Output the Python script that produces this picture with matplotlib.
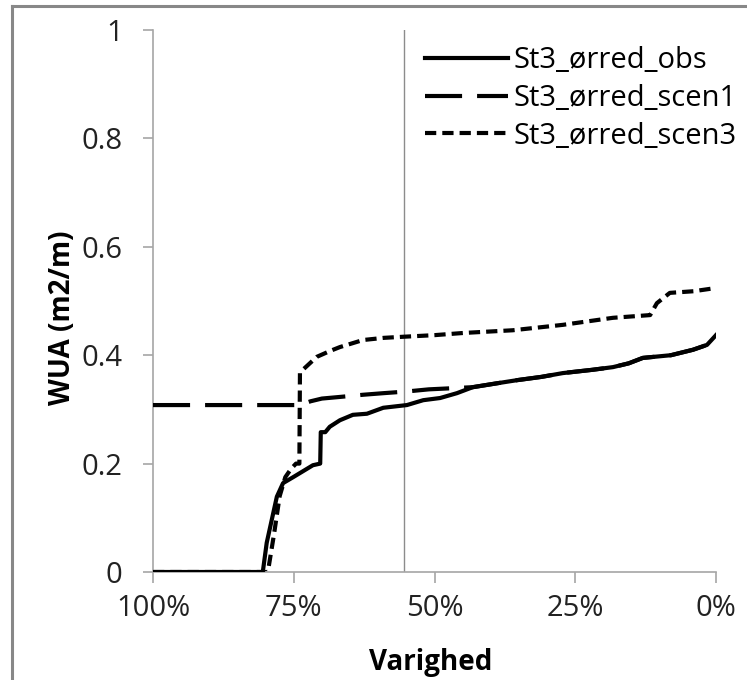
#!/usr/bin/env python3

import matplotlib

matplotlib.use("Agg")

import matplotlib.pyplot as plt
from matplotlib.lines import Line2D

# duration share (%) and WUA (m2/m)
obs_pct = [100, 80.5, 79.8, 78.0, 76.9, 75.1, 71.6, 70.3, 70.2, 69.4, 68.6, 66.8,
           64.5, 62.0, 59.1, 54.9, 52.0, 49.0, 46.0, 43.2, 39.0, 35.3, 31.0, 27.2,
           22.0, 18.3, 15.5, 13.0, 8.0, 4.1, 1.6, 0]
obs_wua = [0, 0, 0.054, 0.139, 0.164, 0.175, 0.197, 0.200, 0.258, 0.258, 0.268, 0.280,
           0.290, 0.292, 0.303, 0.308, 0.317, 0.321, 0.330, 0.341, 0.348, 0.354, 0.360, 0.367,
           0.373, 0.378, 0.385, 0.395, 0.400, 0.410, 0.419, 0.437]

scen1_pct = [100, 74.0, 72.0, 70.0, 66.8, 62.7, 59.0, 55.0, 51.0, 47.0, 43.2, 39.0,
             35.3, 31.0, 27.2, 22.0, 18.3, 15.5, 13.0, 8.0, 4.1, 1.6, 0]
scen1_wua = [0.308, 0.308, 0.315, 0.320, 0.323, 0.327, 0.330, 0.333, 0.337, 0.339, 0.341, 0.348,
             0.354, 0.360, 0.367, 0.373, 0.378, 0.385, 0.395, 0.400, 0.410, 0.419, 0.437]

scen3_pct = [100, 79.6, 78.5, 77.5, 76.5, 75.5, 74.6, 74.0, 73.9, 73.4, 70.9, 68.5,
             66.8, 62.7, 59.0, 55.6, 50.0, 44.9, 36.1, 27.2, 18.3, 11.7, 10.5, 8.2, 4.0, 0]
scen3_wua = [0, 0, 0.07, 0.14, 0.175, 0.190, 0.200, 0.200, 0.367, 0.373, 0.397, 0.408,
             0.415, 0.428, 0.432, 0.434, 0.437, 0.441, 0.446, 0.456, 0.469, 0.474, 0.496, 0.515,
             0.518, 0.524]

marker_pct = 55.4

x_ticks = [100, 75, 50, 25, 0]
x_tick_labels = ["100%", "75%", "50%", "25%", "0%"]
y_ticks = [0, 0.2, 0.4, 0.6, 0.8, 1.0]
y_tick_labels = ["0", "0.2", "0.4", "0.6", "0.8", "1"]

plt.rcParams["font.family"] = ["Open Sans", "DejaVu Sans"]

GRAY = "#a6a6a6"
W, H = 747, 680

fig = plt.figure(figsize=(W / 100, H / 100), dpi=100)
ax = fig.add_axes([153 / W, 1 - 572 / H, 563 / W, 542 / H])

ax.axvline(marker_pct, color="#8c8c8c", linewidth=1.0, zorder=1)

lw = 3.0
ax.plot(scen3_pct, scen3_wua, color="black", linewidth=lw, dashes=(2.7, 1.45),
        label="St3_ørred_scen3", zorder=2)
ax.plot(scen1_pct, scen1_wua, color="black", linewidth=lw, dashes=(8.9, 3.6),
        label="St3_ørred_scen1", zorder=3)
ax.plot(obs_pct, obs_wua, color="black", linewidth=lw, label="St3_ørred_obs", zorder=4)

ax.set_xlim(100, 0)
ax.set_ylim(0, 1)
ax.set_xticks(x_ticks)
ax.set_xticklabels(x_tick_labels)
ax.set_yticks(y_ticks)
ax.set_yticklabels(y_tick_labels)

for side in ("top", "right"):
    ax.spines[side].set_visible(False)
for side in ("left", "bottom"):
    ax.spines[side].set_color(GRAY)
    ax.spines[side].set_linewidth(1.2)

ax.tick_params(axis="x", direction="out", length=8, width=1.2, color=GRAY,
               labelsize=21, pad=8, labelcolor="#222222")
ax.tick_params(axis="y", direction="out", length=7, width=1.2, color=GRAY,
               labelsize=21, pad=15, labelcolor="#222222")

# axis titles placed in figure pixels as measured on the reference
fig.text(431 / W, 1 - 670 / H, "Varighed", fontsize=20, fontweight="bold",
         ha="center", va="baseline")
fig.text(62 / W, 1 - 318 / H, "WUA (m2/m)", fontsize=20, fontweight="bold",
         ha="center", va="center", rotation=90, rotation_mode="anchor")

handles, labels = ax.get_legend_handles_labels()
order = [2, 1, 0]
ax.legend([handles[i] for i in order], [labels[i] for i in order],
          loc="upper left", bbox_to_anchor=(425 / W, 1 - 46 / H),
          bbox_transform=fig.transFigure, frameon=False, fontsize=21,
          handlelength=2.85, handletextpad=0.17, labelspacing=0.3,
          borderpad=0, borderaxespad=0)

# chart-area border (runs off the right and bottom edges of the image)
fig.add_artist(Line2D([12 / W, 1.05], [1 - 6 / H, 1 - 6 / H],
                      transform=fig.transFigure, color="#888888", linewidth=2.2))
fig.add_artist(Line2D([12 / W, 12 / W], [1 - 6 / H, -0.05],
                      transform=fig.transFigure, color="#888888", linewidth=2.2))

fig.savefig("out.png", dpi=100)
